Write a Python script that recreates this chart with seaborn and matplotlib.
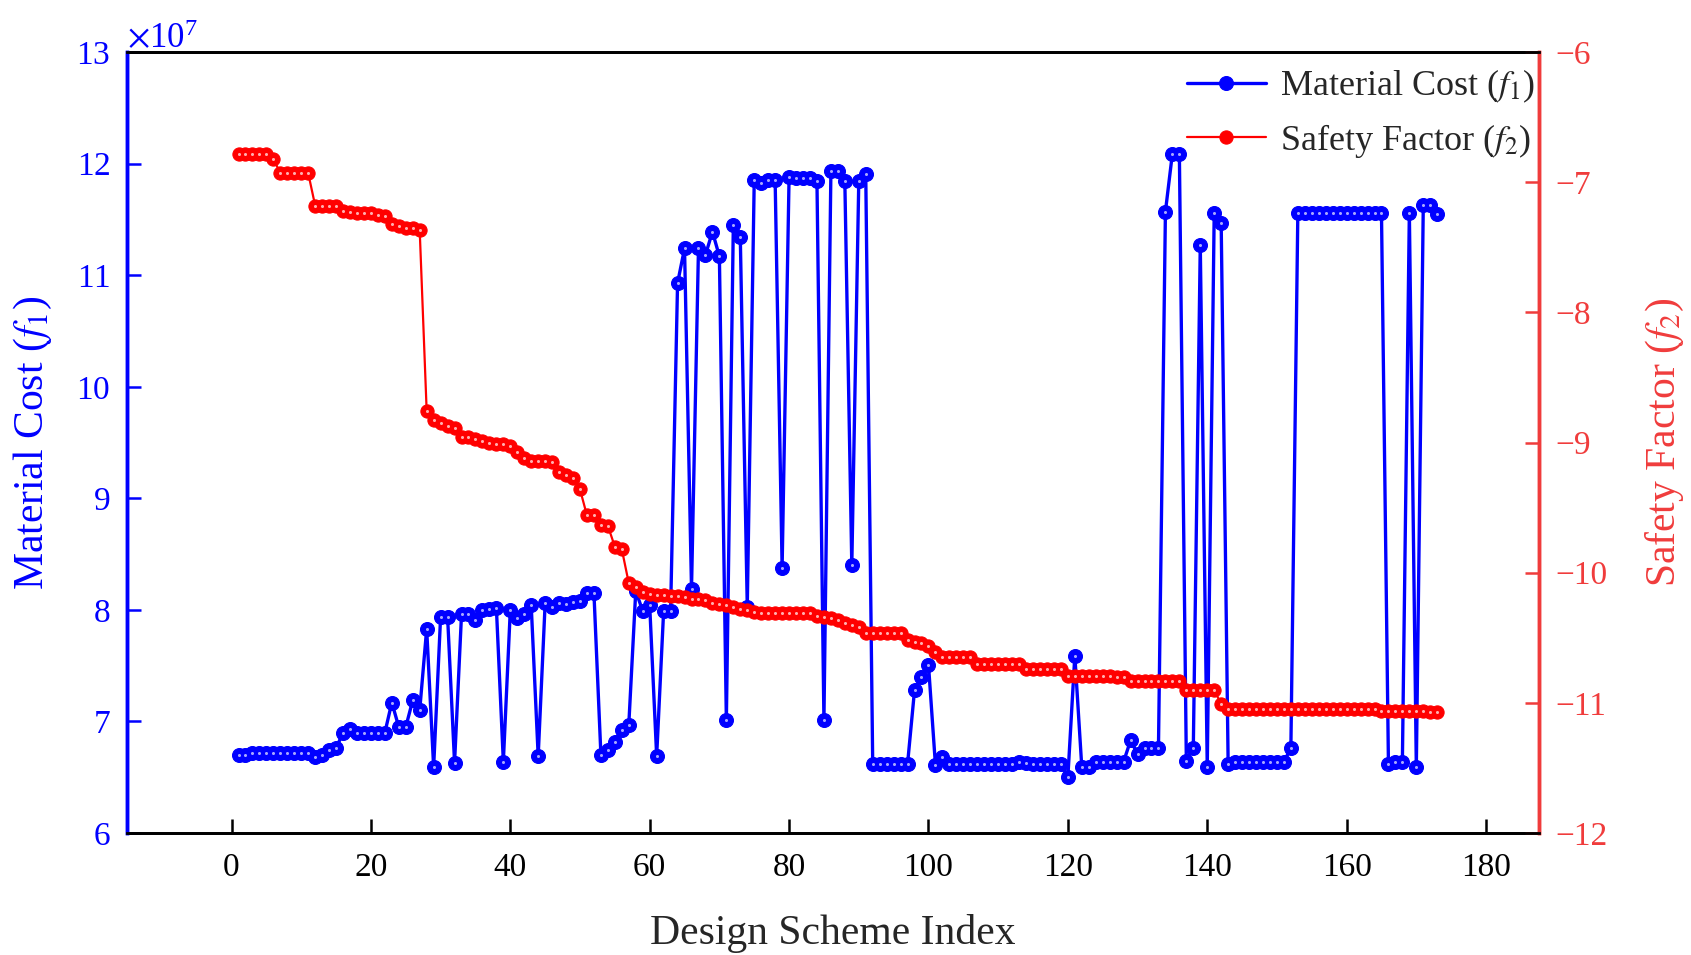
"""
Courbes coût matière / facteur de sécurité en fonction de l'indice de la solution.
"""

import numpy as np
import pandas as pd
import matplotlib
matplotlib.use("Agg")
import matplotlib.pyplot as plt
import seaborn as sns
from matplotlib.ticker import ScalarFormatter

# Coût matière (unités de 1e7), solutions 1..173
cost_1e7 = [
    6.70, 6.70, 6.72, 6.72, 6.72, 6.72, 6.72, 6.72, 6.72, 6.72, 6.72,
    6.68, 6.70, 6.74, 6.76, 6.90, 6.93, 6.90, 6.90, 6.90, 6.90, 6.90,
    7.17, 6.95, 6.95, 7.19, 7.10, 7.83, 6.59, 7.94, 7.94, 6.63,
    7.96, 7.96, 7.91, 8.00, 8.01, 8.02, 6.64, 8.00, 7.93, 7.96, 8.04, 6.69,
    8.06, 8.03, 8.06, 8.05, 8.07, 8.08, 8.15, 8.15,
    6.70, 6.74, 6.82, 6.92, 6.97, 8.17, 7.99, 8.04, 6.69, 7.99, 7.99,
    10.93, 11.24, 8.19, 11.24, 11.18, 11.39, 11.17, 7.01, 11.45, 11.34, 8.03,
    11.85, 11.83, 11.85, 11.85, 8.38, 11.88, 11.87, 11.87, 11.87, 11.84, 7.01,
    11.93, 11.93, 11.84, 8.40, 11.84, 11.91,
    6.62, 6.62, 6.62, 6.62, 6.62, 6.62, 7.28, 7.40, 7.51, 6.61, 6.68,
    6.62, 6.62, 6.62, 6.62, 6.62, 6.62, 6.62, 6.62, 6.62, 6.62, 6.64,
    6.63, 6.62, 6.62, 6.62, 6.62, 6.62,
    6.50, 7.59, 6.59, 6.59, 6.64, 6.64, 6.64, 6.64, 6.64, 6.83, 6.71,
    6.76, 6.76, 6.76, 11.57, 12.09, 12.09, 6.65, 6.76, 11.27, 6.59,
    11.56, 11.47, 6.62, 6.64, 6.64, 6.64, 6.64, 6.64, 6.64, 6.64, 6.64, 6.76,
    11.56, 11.56, 11.56, 11.56, 11.56, 11.56, 11.56, 11.56, 11.56, 11.56,
    11.56, 11.56, 11.56, 6.62, 6.64, 6.64, 11.56, 6.59, 11.63, 11.63, 11.55,
]

# Facteur de sécurité (négatif, minimisé)
safety = [
    -6.78, -6.78, -6.78, -6.78, -6.78, -6.82,
    -6.93, -6.93, -6.93, -6.93, -6.93,
    -7.18, -7.18, -7.18, -7.18,
    -7.22, -7.23, -7.24, -7.24, -7.24, -7.25, -7.26,
    -7.32, -7.34, -7.35, -7.35, -7.37,
    -8.76, -8.83, -8.85, -8.87, -8.89,
    -8.96, -8.96, -8.97, -8.99, -9.00, -9.01, -9.01, -9.03, -9.07,
    -9.12, -9.14, -9.14, -9.14, -9.15, -9.23, -9.25, -9.27, -9.36,
    -9.56, -9.56, -9.63, -9.64, -9.80, -9.82,
    -10.08, -10.11, -10.15, -10.16, -10.17, -10.17, -10.18, -10.18,
    -10.19, -10.20, -10.20, -10.21, -10.23, -10.24, -10.25, -10.26,
    -10.28, -10.29, -10.30,
    -10.31, -10.31, -10.31, -10.31, -10.31, -10.31, -10.31, -10.31,
    -10.33, -10.34, -10.35, -10.36, -10.39, -10.40, -10.42,
    -10.46, -10.46, -10.46, -10.46, -10.46, -10.46,
    -10.52, -10.53, -10.54, -10.56, -10.61,
    -10.65, -10.65, -10.65, -10.65, -10.65,
    -10.70, -10.70, -10.70, -10.70, -10.70, -10.70, -10.70,
    -10.74, -10.74, -10.74, -10.74, -10.74, -10.74,
    -10.79, -10.79, -10.79, -10.79, -10.79, -10.79, -10.79, -10.80, -10.80,
    -10.83, -10.83, -10.83, -10.83, -10.83, -10.83, -10.83, -10.83,
    -10.90, -10.90, -10.90, -10.90, -10.90, -11.01,
    -11.05, -11.05, -11.05, -11.05, -11.05, -11.05, -11.05, -11.05, -11.05,
    -11.05, -11.05, -11.05, -11.05, -11.05, -11.05, -11.05, -11.05, -11.05,
    -11.05, -11.05, -11.05, -11.05,
    -11.06, -11.06, -11.06, -11.06, -11.06, -11.06, -11.06, -11.07, -11.07,
]

x_ticks = [0, 20, 40, 60, 80, 100, 120, 140, 160, 180]
cost_ticks = [6, 7, 8, 9, 10, 11, 12, 13]
safety_ticks = [-12, -11, -10, -9, -8, -7, -6]

BLUE = "#0000FF"
RED = "#FF0000"
RED_AXIS = "#F03C3C"

df = pd.DataFrame({
    "index": np.arange(1, len(cost_1e7) + 1),
    "cost": np.array(cost_1e7) * 1e7,
    "safety": safety,
})

sns.set_style("ticks")
plt.rcParams["font.family"] = ["Liberation Serif", "DejaVu Serif"]
plt.rcParams["mathtext.fontset"] = "stix"

fig, ax1 = plt.subplots(figsize=(16.91, 9.55), dpi=100)
fig.subplots_adjust(left=0.0751, right=0.9101, top=0.9455, bottom=0.1277)
ax2 = ax1.twinx()

# Coût matière
sns.lineplot(data=df, x="index", y="cost", ax=ax1, color=BLUE, lw=2.4,
             marker="o", markersize=10, markeredgecolor=BLUE,
             markeredgewidth=0.8, legend=False)
ax1.plot(df["index"], df["cost"], ls="none", marker="o", markersize=2.2,
         color="#A8A8FF", markeredgewidth=0)

# Facteur de sécurité
sns.lineplot(data=df, x="index", y="safety", ax=ax2, color=RED, lw=1.6,
             marker="o", markersize=9.5, markeredgecolor=RED,
             markeredgewidth=0.8, legend=False)
ax2.plot(df["index"], df["safety"], ls="none", marker="o", markersize=2.2,
         color="#FFB0B0", markeredgewidth=0)

ax1.set_xlim(-15, 187.6)
ax1.set_ylim(6e7, 13e7)
ax2.set_ylim(-12, -6)
ax1.set_xticks(x_ticks)
ax1.set_yticks([v * 1e7 for v in cost_ticks])
ax2.set_yticks(safety_ticks)

fmt = ScalarFormatter(useMathText=True)
fmt.set_powerlimits((7, 7))
ax1.yaxis.set_major_formatter(fmt)
ax1.yaxis.get_offset_text().set(color=BLUE, size=25)

ax1.set_xlabel("Design Scheme Index", fontsize=30, labelpad=22)
ax1.set_ylabel("Material Cost ($f_1$)", fontsize=30, color=BLUE, labelpad=16)
ax2.set_ylabel("Safety Factor ($f_2$)", fontsize=30, color=RED_AXIS, labelpad=26)

ax1.tick_params(axis="x", direction="in", length=10, width=1.8,
                labelsize=24, pad=14, colors="black")
ax1.tick_params(axis="y", direction="in", length=10, width=1.8,
                labelsize=24, pad=12, colors=BLUE)
ax2.tick_params(axis="y", direction="in", length=10, width=1.8,
                labelsize=24, pad=12, colors=RED_AXIS)

for ax in (ax1, ax2):
    ax.spines["top"].set_color("black")
    ax.spines["bottom"].set_color("black")
    ax.spines["top"].set_linewidth(2)
    ax.spines["bottom"].set_linewidth(2)
    ax.spines["left"].set_color(BLUE)
    ax.spines["left"].set_linewidth(2.5)
    ax.spines["right"].set_color(RED_AXIS)
    ax.spines["right"].set_linewidth(2.5)
    ax.grid(False)

handles = [ax1.lines[0], ax2.lines[0]]
labels = ["Material Cost ($f_1$)", "Safety Factor ($f_2$)"]
ax2.legend(handles, labels, loc="upper right", bbox_to_anchor=(1.008, 0.998),
           frameon=False, fontsize=26, handlelength=2.2, handletextpad=0.4,
           labelspacing=0.45, borderaxespad=0.0)

fig.savefig("out.png", dpi=100)
plt.close(fig)
